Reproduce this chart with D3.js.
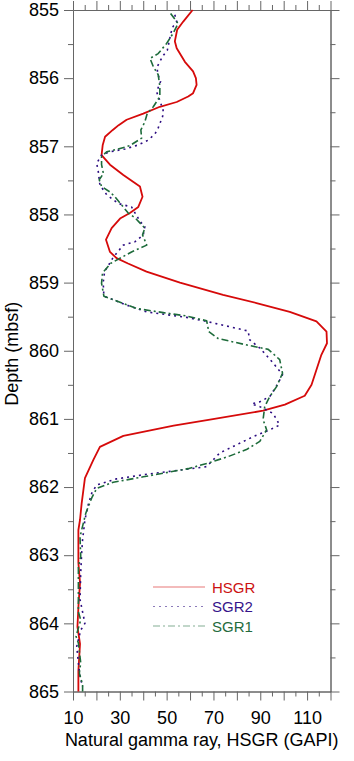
<!DOCTYPE html>
<html>
<head>
<meta charset="utf-8">
<script src="https://cdn.jsdelivr.net/npm/d3@7"></script>
<style>
  body { margin: 0; background: #fff; }
  svg { display: block; }
</style>
</head>
<body>
<div id="chart"></div>
<script>
// depth (mbsf), gamma ray (GAPI)
const hsgr = [
  [855.00, 61.1], [855.17, 57.1], [855.29, 54.5], [855.46, 53.5], [855.56, 54.3], [855.76, 57.8],
  [855.90, 61.3], [856.00, 62.5], [856.10, 62.8], [856.22, 61.3], [856.27, 59.2], [856.35, 54.3],
  [856.42, 47.1], [856.52, 40.0], [856.61, 32.9], [856.69, 29.5], [856.76, 27.0], [856.86, 23.7],
  [856.98, 22.7], [857.13, 22.2], [857.27, 25.8], [857.42, 31.5], [857.59, 38.6], [857.74, 39.7],
  [857.89, 37.9], [857.98, 34.3], [858.06, 30.1], [858.20, 26.5], [858.37, 24.1], [858.55, 25.8],
  [858.64, 28.6], [858.72, 33.5], [858.84, 41.4], [859.00, 55.7], [859.18, 74.1], [859.30, 88.4],
  [859.43, 102.6], [859.57, 114.0], [859.72, 118.3], [859.89, 118.5], [860.06, 116.1], [860.28, 114.0],
  [860.50, 111.9], [860.66, 109.0], [860.79, 100.5], [860.88, 91.2], [861.01, 68.5], [861.10, 53.0],
  [861.25, 31.5], [861.41, 21.5], [861.60, 18.7], [861.87, 15.1], [862.24, 13.7], [862.48, 13.0],
  [862.63, 12.3], [863.11, 12.3], [863.41, 13.0], [863.70, 12.4], [864.05, 11.9], [864.30, 13.0],
  [864.70, 12.3], [865.00, 12.3]
];

const sgr2 = [
  [855.07, 53.5], [855.17, 54.3], [855.24, 52.8], [855.34, 51.8], [855.59, 50.3], [855.68, 48.3],
  [855.83, 46.0], [855.93, 46.1], [856.05, 47.4], [856.20, 45.7], [856.30, 46.8], [856.47, 48.5],
  [856.56, 48.3], [856.73, 46.4], [856.82, 45.0], [856.91, 42.1], [856.98, 37.9], [857.04, 32.2],
  [857.08, 25.8], [857.13, 22.2], [857.25, 20.1], [857.37, 20.8], [857.57, 21.5], [857.71, 24.4],
  [857.84, 29.3], [857.89, 35.0], [858.10, 38.6], [858.18, 40.7], [858.30, 40.0], [858.40, 36.5],
  [858.45, 31.5], [858.57, 28.6], [858.64, 27.0], [858.84, 23.5], [859.00, 22.9], [859.20, 23.2],
  [859.25, 27.2], [859.33, 32.9], [859.43, 41.5], [859.47, 50.0], [859.51, 58.5], [859.57, 67.1],
  [859.71, 84.8], [859.84, 85.5], [859.96, 89.8], [860.18, 95.5], [860.35, 99.5], [860.48, 97.6],
  [860.67, 94.1], [860.75, 89.8], [860.78, 86.3], [860.82, 89.8], [860.92, 95.5], [861.09, 98.3],
  [861.16, 94.1], [861.26, 87.0], [861.38, 79.9], [861.50, 72.7], [861.70, 67.1], [861.74, 58.5],
  [861.77, 51.4], [861.82, 40.0], [861.88, 28.6], [861.97, 20.1], [862.09, 18.0], [862.26, 16.5],
  [862.48, 15.1], [862.77, 14.1], [862.97, 13.7], [863.26, 13.3], [863.65, 13.0], [864.00, 15.1],
  [864.10, 13.3], [864.34, 11.6], [864.58, 12.3], [864.78, 13.0], [864.93, 14.1]
];

const sgr1 = [
  [855.05, 51.7], [855.20, 54.9], [855.34, 52.8], [855.49, 50.0], [855.64, 46.4], [855.71, 42.9],
  [855.83, 44.3], [855.95, 46.4], [856.12, 47.1], [856.27, 47.1], [856.42, 44.3], [856.52, 41.7],
  [856.64, 40.7], [856.76, 39.0], [856.88, 39.3], [856.99, 34.3], [857.04, 29.3], [857.08, 24.4],
  [857.15, 22.2], [857.27, 22.2], [857.40, 23.0], [857.49, 21.2], [857.59, 22.2], [857.67, 25.8],
  [857.74, 27.9], [857.98, 33.6], [858.05, 36.5], [858.20, 40.7], [858.30, 39.7], [858.45, 41.5],
  [858.55, 35.0], [858.72, 26.0], [858.86, 22.6], [859.01, 22.2], [859.20, 23.2], [859.25, 27.2],
  [859.38, 37.2], [859.44, 48.5], [859.49, 58.5], [859.56, 67.1], [859.72, 68.0], [859.82, 72.0],
  [859.91, 83.5], [859.98, 93.4], [860.13, 98.3], [860.33, 99.5], [860.53, 96.9], [860.67, 94.1],
  [860.82, 91.9], [861.01, 91.2], [861.16, 92.7], [861.33, 89.8], [861.45, 84.1], [861.55, 76.5],
  [861.64, 68.5], [861.73, 59.2], [861.85, 40.0], [861.93, 27.2], [862.02, 20.1], [862.16, 18.0],
  [862.38, 15.5], [862.63, 13.7], [862.73, 13.0], [863.02, 13.3], [863.17, 12.3], [863.50, 12.3],
  [863.83, 12.3], [863.95, 13.3], [864.19, 11.3], [864.29, 12.3], [864.58, 13.3], [864.73, 12.7],
  [864.90, 14.1], [865.00, 14.1]
];

const depthTicks = [855, 856, 857, 858, 859, 860, 861, 862, 863, 864, 865];
const depthMinor = [855.5, 856.5, 857.5, 858.5, 859.5, 860.5, 861.5, 862.5, 863.5, 864.5];
const gammaTicks = [10, 20, 30, 40, 50, 60, 70, 80, 90, 100, 110, 120];
const gammaMinor = [15, 25, 35, 45, 55, 65, 75, 85, 95, 105, 115];
const gammaLabels = [10, 30, 50, 70, 90, 110];

const series = [
  { name: "HSGR", data: hsgr, color: "#d60a0a", width: 1.8, dash: null, text: "#cc1111" },
  { name: "SGR2", data: sgr2, color: "#2c0c80", width: 1.6, dash: "2,4", text: "#35148a" },
  { name: "SGR1", data: sgr1, color: "#1d6b3a", width: 1.6, dash: "7,3,2,3", text: "#246b3c" }
];

const W = 354, H = 761;
const margin = { top: 10, right: 23.5, bottom: 69.5, left: 73 };
const font = "'Liberation Sans', Arial, Helvetica, sans-serif";
const axisColor = "#666";

const svg = d3.select("#chart").append("svg")
  .attr("width", W).attr("height", H);

const x = d3.scaleLinear().domain([10, 120]).range([margin.left, W - margin.right]);
const y = d3.scaleLinear().domain([855, 865]).range([margin.top, H - margin.bottom]);

function styleAxis(g) {
  g.selectAll("path, line").attr("stroke", axisColor).attr("stroke-width", 1);
  g.selectAll("text").style("font-family", font).style("font-size", "18px").attr("fill", "#000");
}

// left
svg.append("g").attr("transform", `translate(${margin.left},0)`)
  .call(d3.axisLeft(y).tickValues(depthTicks).tickSize(9).tickPadding(5).tickSizeOuter(0).tickFormat(d3.format("d")))
  .call(styleAxis);
svg.append("g").attr("transform", `translate(${margin.left},0)`)
  .call(d3.axisLeft(y).tickValues(depthMinor).tickSize(5).tickSizeOuter(0).tickFormat(""))
  .call(styleAxis);
// right
svg.append("g").attr("transform", `translate(${W - margin.right},0)`)
  .call(d3.axisRight(y).tickValues(depthTicks).tickSize(9).tickSizeOuter(0).tickFormat(""))
  .call(styleAxis);
svg.append("g").attr("transform", `translate(${W - margin.right},0)`)
  .call(d3.axisRight(y).tickValues(depthMinor).tickSize(5).tickSizeOuter(0).tickFormat(""))
  .call(styleAxis);
// bottom
svg.append("g").attr("transform", `translate(0,${H - margin.bottom})`)
  .call(d3.axisBottom(x).tickValues(gammaTicks).tickSize(9).tickPadding(11).tickSizeOuter(0)
    .tickFormat(d => gammaLabels.includes(d) ? d : ""))
  .call(styleAxis);
svg.append("g").attr("transform", `translate(0,${H - margin.bottom})`)
  .call(d3.axisBottom(x).tickValues(gammaMinor).tickSize(5).tickSizeOuter(0).tickFormat(""))
  .call(styleAxis);
// top
svg.append("g").attr("transform", `translate(0,${margin.top})`)
  .call(d3.axisTop(x).tickValues(gammaTicks).tickSize(9).tickSizeOuter(0).tickFormat(""))
  .call(styleAxis);
svg.append("g").attr("transform", `translate(0,${margin.top})`)
  .call(d3.axisTop(x).tickValues(gammaMinor).tickSize(5).tickSizeOuter(0).tickFormat(""))
  .call(styleAxis);

// curves
const line = d3.line().x(d => x(d[1])).y(d => y(d[0]));
series.forEach(s => {
  svg.append("path")
    .datum(s.data)
    .attr("d", line)
    .attr("fill", "none")
    .attr("stroke", s.color)
    .attr("stroke-width", s.width)
    .attr("stroke-dasharray", s.dash)
    .attr("stroke-linejoin", "round");
});

// legend
const leg = svg.append("g").attr("transform", "translate(153,587)");
series.forEach((s, i) => {
  let row = leg.append("g").attr("transform", `translate(0,${i * 19.5})`);
  row.append("line")
    .attr("x1", 0).attr("x2", 52)
    .attr("stroke", s.color).attr("stroke-opacity", 0.55)
    .attr("stroke-width", 1)
    .attr("stroke-dasharray", s.dash);
  row.append("text")
    .attr("x", 59).attr("y", 5.5)
    .style("font-family", font).style("font-size", "15px")
    .attr("fill", s.text)
    .text(s.name);
});

// axis titles
svg.append("text")
  .attr("x", (x.range()[0] + x.range()[1]) / 2)
  .attr("y", 746)
  .attr("text-anchor", "middle")
  .style("font-family", font).style("font-size", "18px")
  .text("Natural gamma ray, HSGR (GAPI)");

svg.append("text")
  .attr("transform", `translate(18,${(y.range()[0] + y.range()[1]) / 2 + 3}) rotate(-90)`)
  .attr("text-anchor", "middle")
  .style("font-family", font).style("font-size", "18px")
  .text("Depth (mbsf)");
</script>
</body>
</html>
